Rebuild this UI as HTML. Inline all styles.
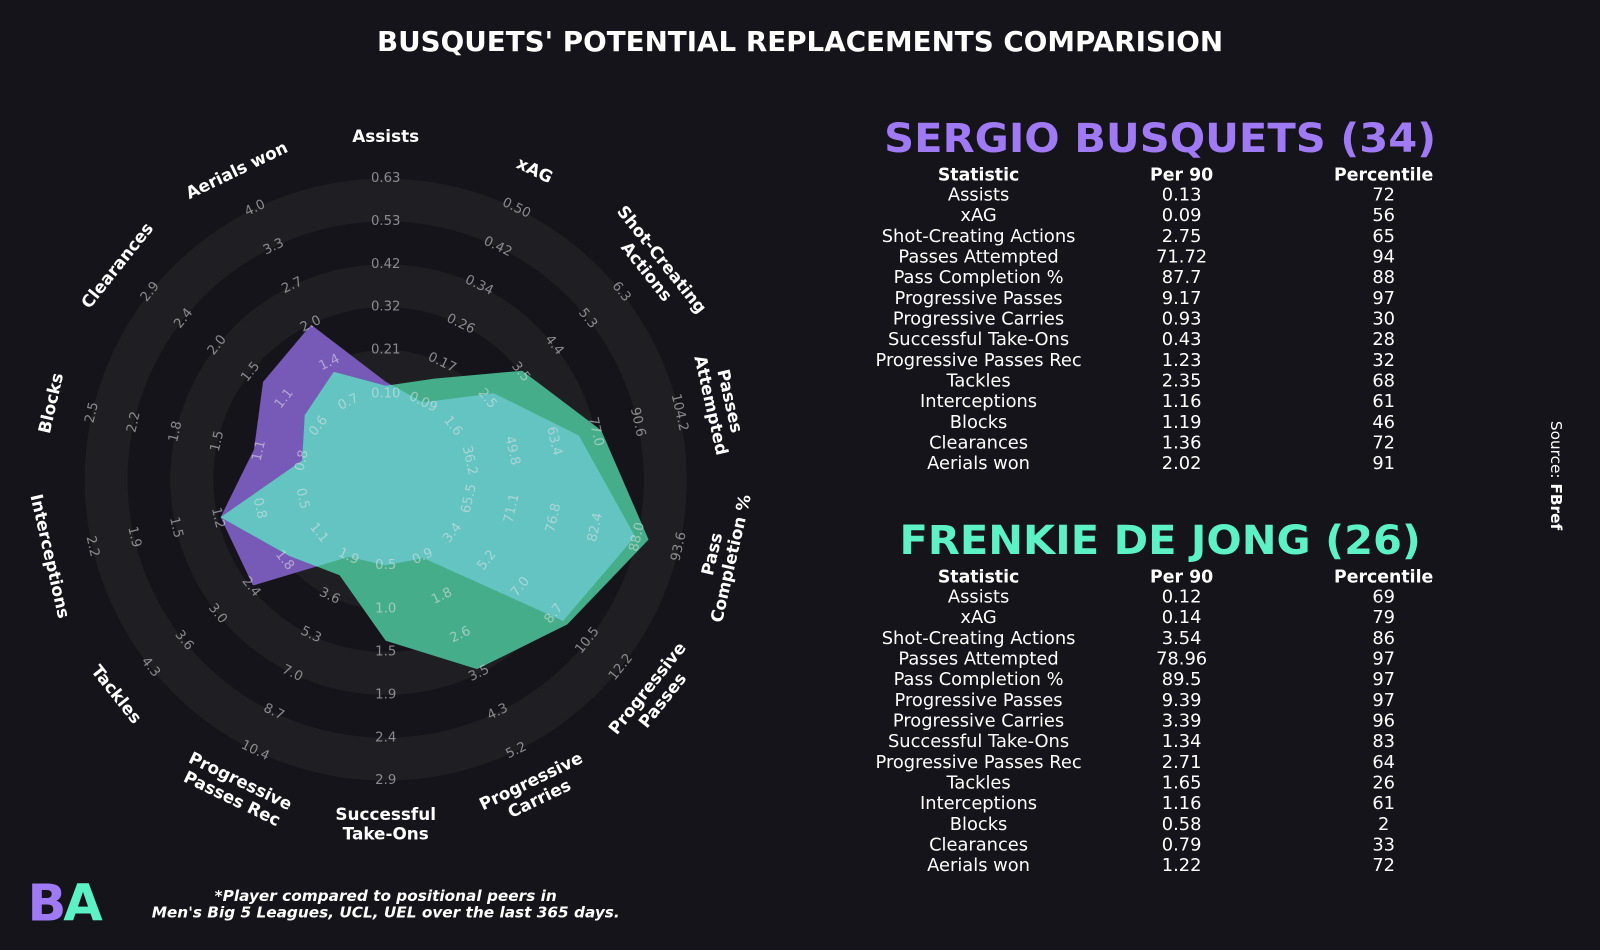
<!DOCTYPE html>
<html><head><meta charset="utf-8">
<style>
html,body{margin:0;padding:0;background:#15141a;}
svg{display:block;}
text{font-family:"DejaVu Sans","Liberation Sans",sans-serif;}
</style></head>
<body>
<svg id="chart" width="1600" height="950" viewBox="0 0 1568 931" xmlns="http://www.w3.org/2000/svg">
<rect x="0" y="0" width="1568" height="931" fill="#15141a"/>
<text x="784" y="50" text-anchor="middle" font-size="27.2" font-weight="bold" fill="#ffffff">BUSQUETS' POTENTIAL REPLACEMENTS COMPARISION</text>
<g id="radar"></g>
<g id="tables"></g>
<text transform="translate(1520,466) rotate(90)" text-anchor="middle" font-size="15" fill="#ffffff">Source: <tspan font-weight="bold">FBref</tspan></text>
<g>
<text x="27" y="902" font-size="50" font-weight="bold" fill="#a07af5">B</text>
<text x="62" y="902" font-size="50" font-weight="bold" fill="#5cf2c6">A</text>
</g>
<text x="378" y="883" text-anchor="middle" font-size="15" font-weight="bold" font-style="italic" fill="#ffffff">*Player compared to positional peers in</text>
<text x="378" y="899" text-anchor="middle" font-size="15" font-weight="bold" font-style="italic" fill="#ffffff">Men's Big 5 Leagues, UCL, UEL over the last 365 days.</text>
</svg>
<script>
const params = ["Assists","xAG","Shot-Creating\nActions","Passes\nAttempted","Pass\nCompletion %","Progressive\nPasses","Progressive\nCarries","Successful\nTake-Ons","Progressive\nPasses Rec","Tackles","Interceptions","Blocks","Clearances","Aerials won"];
const tickLabels = [
 ["0.10","0.21","0.32","0.42","0.53","0.63"],
 ["0.09","0.17","0.26","0.34","0.42","0.50"],
 ["1.6","2.5","3.5","4.4","5.3","6.3"],
 ["36.2","49.8","63.4","77.0","90.6","104.2"],
 ["65.5","71.1","76.8","82.4","88.0","93.6"],
 ["3.4","5.2","7.0","8.7","10.5","12.2"],
 ["0.9","1.8","2.6","3.5","4.3","5.2"],
 ["0.5","1.0","1.5","1.9","2.4","2.9"],
 ["1.9","3.6","5.3","7.0","8.7","10.4"],
 ["1.1","1.8","2.4","3.0","3.6","4.3"],
 ["0.5","0.8","1.2","1.5","1.9","2.2"],
 ["0.8","1.1","1.5","1.8","2.2","2.5"],
 ["0.6","1.1","1.5","2.0","2.4","2.9"],
 ["0.7","1.4","2.0","2.7","3.3","4.0"]
];
const mins = [0.10,0.09,1.6,36.2,65.5,3.4,0.9,0.5,1.9,1.1,0.5,0.8,0.6,0.7];
const maxs = [0.63,0.50,6.3,104.2,93.6,12.2,5.2,2.9,10.4,4.3,2.2,2.5,2.9,4.0];
const busquets = [0.13,0.09,2.75,71.72,87.7,9.17,0.93,0.43,1.23,2.35,1.16,1.19,1.36,2.02];
const dejong = [0.12,0.14,3.54,78.96,89.5,9.39,3.39,1.34,2.71,1.65,1.16,0.58,0.79,1.22];
const tableStats = ["Assists","xAG","Shot-Creating Actions","Passes Attempted","Pass Completion %","Progressive Passes","Progressive Carries","Successful Take-Ons","Progressive Passes Rec","Tackles","Interceptions","Blocks","Clearances","Aerials won"];
const busqPer90 = ["0.13","0.09","2.75","71.72","87.7","9.17","0.93","0.43","1.23","2.35","1.16","1.19","1.36","2.02"];
const busqPct = ["72","56","65","94","88","97","30","28","32","68","61","46","72","91"];
const djPer90 = ["0.12","0.14","3.54","78.96","89.5","9.39","3.39","1.34","2.71","1.65","1.16","0.58","0.79","1.22"];
const djPct = ["69","79","86","97","97","97","96","83","64","26","61","2","33","72"];

const NS="http://www.w3.org/2000/svg";
const cx=378, cy=470, r0=84, rMax=295;
const n=params.length;
function ang(i){return i*2*Math.PI/n;}
function rad(v,i){let f=(v-mins[i])/(maxs[i]-mins[i]);f=Math.max(0,Math.min(1,f));return r0+f*(rMax-r0);}
function px(r,i){return cx+r*Math.sin(ang(i));}
function py(r,i){return cy-r*Math.cos(ang(i));}
function mk(tag,attrs,parent){const e=document.createElementNS(NS,tag);for(const k in attrs)e.setAttribute(k,attrs[k]);parent.appendChild(e);return e;}
function rotFor(i){let d=i*360/n;if(d>90&&d<270)d-=180;else if(d>=270)d-=360;return d;}

const g=document.getElementById('radar');
const ringR=[295,253,211,169,127,84,42];
const ringC=["#1f1e23","#15141a","#1f1e23","#15141a","#1f1e23","#15141a","#1c1b21"];
ringR.forEach((r,k)=>{
 const c=mk('circle',{cx:cx,cy:cy,r:r,fill:ringC[k]},g);
 
 
});
function poly(vals){return vals.map((v,i)=>px(rad(v,i),i).toFixed(1)+","+py(rad(v,i),i).toFixed(1)).join(" ");}
const defs=mk('defs',{},g);
const clip=mk('clipPath',{id:'djclip'},defs);
mk('polygon',{points:poly(dejong)},clip);
const pb=mk('polygon',{points:poly(busquets),fill:"#7759b8"},g);


const pd=mk('polygon',{points:poly(dejong),fill:"#45ad8a"},g);


const po=mk('polygon',{points:poly(busquets),fill:"#63c4c1","clip-path":"url(#djclip)"},g);


const tickR=[84,127,169,211,253,295];
for(let i=0;i<n;i++){
 tickLabels[i].forEach((t,k)=>{
  const x=px(tickR[k],i),y=py(tickR[k],i);
  const e=mk('text',{x:x,y:y,'text-anchor':'middle','dominant-baseline':'central','font-size':13,fill:'#e4e4ea','fill-opacity':0.55,transform:`rotate(${rotFor(i)},${x},${y})`},g);
  e.textContent=t;
  
  
 });
 const lines=params[i].split("\n");
 const lx=px(337,i),ly=py(337,i);
 const e=mk('text',{x:lx,y:ly,'text-anchor':'middle','font-size':16.5,'font-weight':'bold',fill:'#ffffff',transform:`rotate(${rotFor(i)},${lx},${ly})`},g);
 
 
 const lh=19, off=-(lines.length-1)*lh/2+6;
 lines.forEach((l,k)=>{const ts=mk('tspan',{x:lx,y:ly+off+k*lh},e);ts.textContent=l;});
}
const tg=document.getElementById('tables');
function table(title,color,ty,hy,per,pct,nm,tl){
 const t=mk('text',{x:1137,y:ty,'text-anchor':'middle','font-size':39,'font-weight':'bold',fill:color,textLength:tl,lengthAdjust:'spacingAndGlyphs'},tg);
 t.textContent=title;
 
 
 const cols=[959,1158,1356],hdr=["Statistic","Per 90","Percentile"];
 hdr.forEach((h,k)=>{const e=mk('text',{x:cols[k],y:hy,'text-anchor':'middle','font-size':17,'font-weight':'bold',fill:'#ffffff'},tg);e.textContent=h;
  
  });
 tableStats.forEach((s,j)=>{
  const y=hy+19.5+j*20.25;
  [s,per[j],pct[j]].forEach((v,k)=>{const e=mk('text',{x:cols[k],y:y,'text-anchor':'middle','font-size':17.5,fill:'#ffffff'},tg);e.textContent=v;
   
   });
 });
}
table("SERGIO BUSQUETS (34)","#a07af5",149,177,busqPer90,busqPct,'busquets',541);
table("FRENKIE DE JONG (26)","#5cf2c6",543,571,djPer90,djPct,'de-jong',511);
</script>
</body></html>
